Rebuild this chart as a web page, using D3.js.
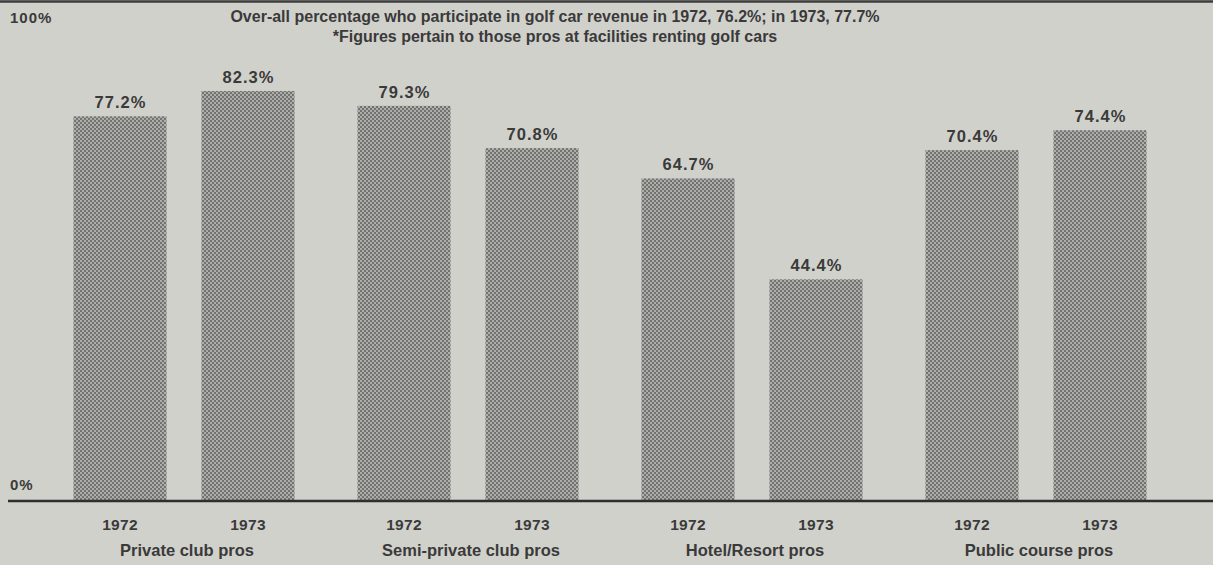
<!DOCTYPE html>
<html><head><meta charset="utf-8">
<script src="https://cdn.jsdelivr.net/npm/d3@7"></script>
<style>
html,body{margin:0;padding:0;background:#d1d1cc;}
svg{display:block;}
text{font-family:"Liberation Sans","Helvetica",Arial,sans-serif;fill:#3a3a3a;font-weight:bold;}
</style></head>
<body>
<svg id="chart" width="1213" height="565"></svg>
<script>
const categories = ["Private club pros","Semi-private club pros","Hotel/Resort pros","Public course pros"];
const years = ["1972","1973"];
const values1972 = [77.2, 79.3, 64.7, 70.4];
const values1973 = [82.3, 70.8, 44.4, 74.4];
const yTicks = [0, 100];
const titleLines = ["Over-all percentage who participate in golf car revenue in 1972, 76.2%; in 1973, 77.7%",
                    "*Figures pertain to those pros at facilities renting golf cars"];

const svg = d3.select("#chart");
const W = 1213, H = 565;

const defs = svg.append("defs");
const pat = defs.append("pattern").attr("id","dots").attr("patternUnits","userSpaceOnUse")
  .attr("width",4).attr("height",4);
pat.append("rect").attr("width",4).attr("height",4).attr("fill","#adadaa");
pat.append("rect").attr("x",0).attr("y",0).attr("width",2).attr("height",2).attr("fill","#727270");
pat.append("rect").attr("x",2).attr("y",2).attr("width",2).attr("height",2).attr("fill","#727270");

svg.append("rect").attr("width",W).attr("height",H).attr("fill","#d1d1cc");

const y = d3.scaleLinear().domain([0,100]).range([500,3]);
const x0 = d3.scaleBand().domain(categories).range([42,1178]).paddingInner(0);
const x1 = d3.scaleBand().domain(years).range([0,x0.bandwidth()]).paddingInner(0.273).paddingOuter(0.246);

const data = categories.map((c,i)=>({cat:c, vals:[{year:"1972",v:values1972[i]},{year:"1973",v:values1973[i]}]}));

// top rule
svg.append("line").attr("x1",0).attr("x2",W).attr("y1",y(100)-1.5).attr("y2",y(100)-1.5)
  .attr("stroke","#3c3c3c").attr("stroke-width",2.5);

const g = svg.selectAll("g.grp").data(data).join("g").attr("class","grp")
  .attr("transform",d=>`translate(${x0(d.cat)},0)`);

g.selectAll("rect").data(d=>d.vals).join("rect")
  .attr("x",d=>x1(d.year)).attr("width",x1.bandwidth())
  .attr("y",d=>y(d.v)).attr("height",d=>y(0)-y(d.v))
  .attr("fill","url(#dots)");

g.selectAll("text.val").data(d=>d.vals).join("text").attr("class","val")
  .attr("x",d=>x1(d.year)+x1.bandwidth()/2+0.5).attr("y",d=>y(d.v)-8)
  .attr("text-anchor","middle").attr("font-size",16.5).attr("letter-spacing",1)
  .text(d=>d.v.toFixed(1)+"%");

g.selectAll("text.yr").data(d=>d.vals).join("text").attr("class","yr")
  .attr("x",d=>x1(d.year)+x1.bandwidth()/2).attr("y",530)
  .attr("text-anchor","middle").attr("font-size",15.5).attr("letter-spacing",0.3).text(d=>d.year);

g.append("text").attr("x",x0.bandwidth()/2+3).attr("y",556).attr("text-anchor","middle")
  .attr("font-size",16.5).text(d=>d.cat);

// baseline
svg.append("line").attr("x1",8).attr("x2",W).attr("y1",y(0)+1).attr("y2",y(0)+1)
  .attr("stroke","#2e2e2e").attr("stroke-width",2.5);

// y labels
svg.selectAll("text.ytick").data(yTicks).join("text").attr("class","ytick")
  .attr("x",10).attr("y",d=>d===100?23:490).attr("font-size",15).attr("letter-spacing",1).text(d=>d+"%");

// title
svg.selectAll("text.title").data(titleLines).join("text").attr("class","title")
  .attr("x",555).attr("y",(d,i)=>22+i*20).attr("text-anchor","middle").attr("font-size",16).text(d=>d);
</script>
</body></html>
